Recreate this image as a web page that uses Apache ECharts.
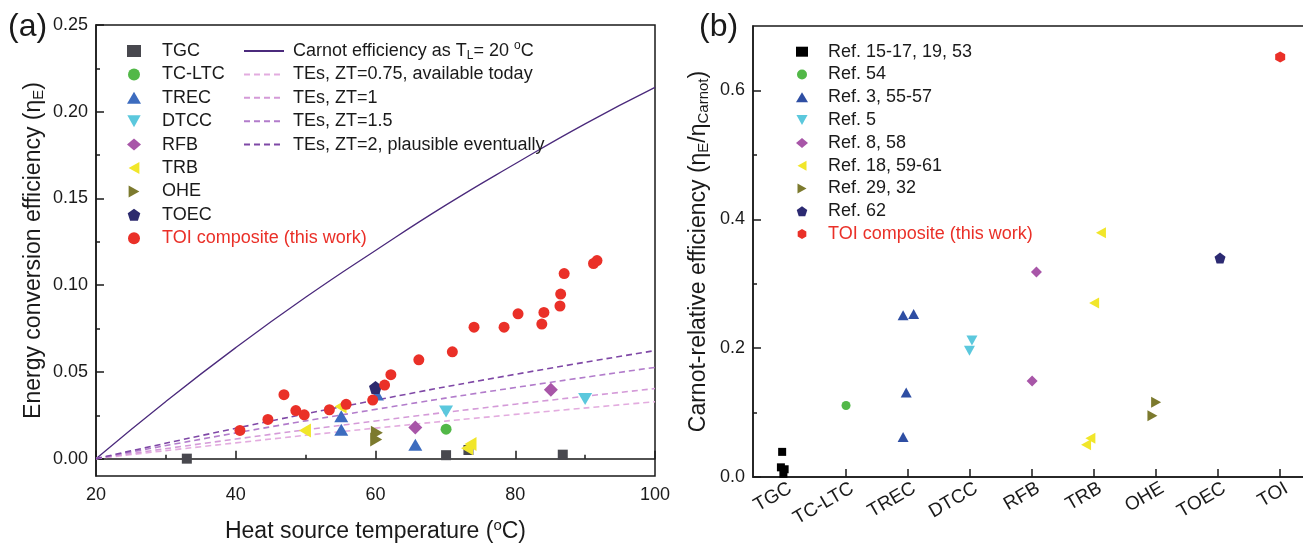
<!DOCTYPE html>
<html>
<head>
<meta charset="utf-8">
<script src="https://cdn.jsdelivr.net/npm/echarts@6/dist/echarts.min.js"></script>
<style>
html,body{margin:0;padding:0;background:#fff}
#chart{width:1303px;height:545px}
</style>
</head>
<body>
<div id="chart"></div>
<script>
// ---- panel (a): heat source temperature (oC) vs efficiency
var tgcA   = [[33.0,0.000],[70.1,0.002],[73.3,0.005],[86.8,0.0023]];
var tcltcA = [[70.1,0.017]];
var trecA  = [[55.1,0.0244],[55.1,0.0167],[65.7,0.008],[60.2,0.037]];
var dtccA  = [[70.1,0.0272],[90.0,0.0344]];
var rfbA   = [[65.7,0.018],[85.1,0.0397]];
var trbA   = [[49.9,0.0163],[55.0,0.030],[73.6,0.0085],[73.1,0.006]];
var oheA   = [[60.2,0.0150],[60.1,0.011]];
var toecA  = [[60.0,0.041]];
var toiA   = [[40.6,0.0163],[44.6,0.0226],[46.9,0.0369],[48.6,0.0277],[49.8,0.0253],[53.4,0.0282],
              [55.8,0.0313],[59.6,0.0338],[61.3,0.0424],[62.2,0.0484],[66.2,0.057],[71.0,0.0616],
              [74.1,0.0758],[78.4,0.0758],[80.4,0.0835],[83.8,0.0776],[84.1,0.0843],[86.4,0.088],
              [86.5,0.0949],[87.0,0.1067],[91.2,0.1125],[91.7,0.1142]];

var carnotT   = [20,30,40,50,60,70,80,90,100];
var carnotEta = [0,0.033,0.064,0.093,0.120,0.146,0.170,0.193,0.214];
var teT   = [20,40,60,80,100];
var zt075 = [0,0.0091,0.0176,0.0255,0.0328];
var zt1   = [0,0.0113,0.0217,0.0314,0.0404];
var zt15  = [0,0.0148,0.0284,0.0410,0.0526];
var zt2   = [0,0.0175,0.0337,0.0486,0.0623];

var yTicksA  = [0,0.05,0.10,0.15,0.20,0.25];
var yMinorA  = [0.025,0.075,0.125,0.175,0.225];

// ---- panel (b): Carnot-relative efficiency by technology
var techNames = ['TGC','TC-LTC','TREC','DTCC','RFB','TRB','OHE','TOEC','TOI'];
var techPos   = [1,2,3,4,5,6,7,8,9];
var ref15 = [[0.97,0.039],[0.95,0.015],[1.01,0.012],[0.99,0.005]];
var ref54 = [[2.0,0.111]];
var ref3  = [[2.92,0.251],[3.09,0.253],[2.97,0.131],[2.92,0.062]];
var ref5  = [[4.03,0.212],[3.99,0.196]];
var ref8  = [[5.07,0.318],[5.0,0.149]];
var ref18 = [[6.11,0.379],[6.0,0.270],[5.94,0.060],[5.87,0.050]];
var ref29 = [[7.0,0.116],[6.94,0.095]];
var ref62 = [[8.03,0.340]];
var toiB  = [[9.0,0.652]];
var yTicksB = [0,0.2,0.4,0.6];
var yMinorB = [0.1,0.3,0.5];

var FONT = 'Liberation Sans, Arial, sans-serif';
var INK = '#1a1a1a';
var RED = '#ea3028';
var TOI_NAME = 'TOI composite (this work)';
var CARNOT_NAME = 'Carnot efficiency as TL= 20 oC';

var downTri  = 'path://M0,0 L10,0 L5,9 Z';
var leftTri  = 'path://M9,0 L9,10 L0,5 Z';
var rightTri = 'path://M0,0 L0,10 L9,5 Z';
var pent     = 'path://M50,0 L97.6,34.5 L79.4,90.5 L20.6,90.5 L2.4,34.5 Z';
var hexa     = 'path://M50,0 L93.3,25 L93.3,75 L50,100 L6.7,75 L6.7,25 Z';

function sc(name, data, symbol, size, color, xi, yi){
  return {name:name, type:'scatter', xAxisIndex:xi, yAxisIndex:yi, data:data,
    symbol:symbol, symbolSize:size, itemStyle:{color:color, opacity:1}, z:5};
}
function ln(name, xs, ys, color, dashed, width){
  var pts = xs.map(function(x,i){ return [x, ys[i]]; });
  return {name:name, type:'line', xAxisIndex:0, yAxisIndex:0, data:pts, symbol:'none',
    smooth:true, lineStyle:{color:color, width:width, type: dashed ? [6,4] : 'solid'},
    itemStyle:{color:color}, z:2};
}

var axisLineStyle = {color:INK, width:1.5};
var labelStyle = {color:INK, fontSize:18, fontFamily:FONT};
var titleRich = {
  t:{fontSize:23, color:INK, fontFamily:FONT, lineHeight:26},
  sub:{fontSize:15, color:INK, fontFamily:FONT, lineHeight:26, padding:[10,0,0,0]},
  sup:{fontSize:15, color:INK, fontFamily:FONT, lineHeight:26, padding:[0,0,13,0]}
};
var lineLegendText = {fontSize:18, color:INK, fontFamily:FONT, lineHeight:18, padding:[0,0,0,4],
  rich:{
    t:{fontSize:18, color:INK, fontFamily:FONT, lineHeight:18},
    sub:{fontSize:12, color:INK, fontFamily:FONT, lineHeight:18, padding:[9,0,0,0]},
    sup:{fontSize:12, color:INK, fontFamily:FONT, lineHeight:18, padding:[0,0,10,0]}}};
// label anchors sit a little right of each tick, as in the original
var techLabelPos = techPos.map(function(p){ return p + 0.1; });

var chart = echarts.init(document.getElementById('chart'));
var option = {
  backgroundColor:'#fff',
  animation:false,
  textStyle:{fontFamily:FONT},
  graphic:[
    {type:'text', left:8, top:11, style:{text:'(a)', font:'32px Liberation Sans', fill:INK}},
    {type:'text', left:699, top:11, style:{text:'(b)', font:'32px Liberation Sans', fill:INK}}
  ],
  grid:[
    {left:96, top:25, width:559, height:451, show:true, borderColor:INK, borderWidth:1.5, outerBoundsMode:'none'},
    {left:753, top:26, width:552, height:451, show:true, borderColor:INK, borderWidth:1.5, outerBoundsMode:'none'}
  ],
  xAxis:[
    {gridIndex:0, type:'value', min:20, max:100, interval:20,
     axisLine:{lineStyle:axisLineStyle},
     axisTick:{inside:true, length:8, lineStyle:axisLineStyle},
     minorTick:{show:true, splitNumber:2, length:4, lineStyle:axisLineStyle},
     axisLabel:Object.assign({margin:10}, labelStyle),
     splitLine:{show:false}, minorSplitLine:{show:false},
     name:'{t|Heat source temperature (}{sup|o}{t|C)}', nameLocation:'middle', nameGap:43,
     nameTextStyle:{rich:titleRich}},
    {gridIndex:1, type:'value', min:0.5, max:9.4,
     axisLine:{lineStyle:axisLineStyle},
     axisTick:{inside:true, length:8, customValues:techPos, lineStyle:axisLineStyle},
     axisLabel:{margin:10, rotate:30, fontSize:19, customValues:techLabelPos, color:INK, fontFamily:FONT,
       formatter:function(v){ return techNames[Math.round(v)-1] || ''; }},
     splitLine:{show:false}}
  ],
  yAxis:[
    {gridIndex:0, type:'value', position:'left', min:-0.01, max:0.25,
     axisLine:{show:true, lineStyle:axisLineStyle},
     axisTick:{show:true, inside:true, length:8, customValues:yTicksA, lineStyle:axisLineStyle},
     axisLabel:Object.assign({margin:8, customValues:yTicksA,
       formatter:function(v){ return v.toFixed(2); }}, labelStyle),
     splitLine:{show:false},
     name:'{t|Energy conversion efficiency (\u03b7}{sub|E}{t|)}', nameLocation:'middle', nameGap:49, nameRotate:90,
     nameTextStyle:{rich:titleRich}},
    {gridIndex:0, type:'value', position:'left', min:-0.01, max:0.25,
     axisLine:{show:false},
     axisTick:{show:true, inside:true, length:4, customValues:yMinorA, lineStyle:axisLineStyle},
     axisLabel:{show:false}, splitLine:{show:false}},
    {gridIndex:1, type:'value', position:'left', min:0, max:0.7,
     axisLine:{show:true, lineStyle:axisLineStyle},
     axisTick:{show:true, inside:true, length:8, customValues:yTicksB, lineStyle:axisLineStyle},
     axisLabel:Object.assign({margin:8, customValues:yTicksB,
       formatter:function(v){ return v.toFixed(1); }}, labelStyle),
     splitLine:{show:false},
     name:'{t|Carnot-relative efficiency (\u03b7}{sub|E}{t|/\u03b7}{sub|Carnot}{t|)}',
     nameLocation:'middle', nameGap:41, nameRotate:90,
     nameTextStyle:{rich:titleRich}},
    {gridIndex:1, type:'value', position:'left', min:0, max:0.7,
     axisLine:{show:false},
     axisTick:{show:true, inside:true, length:4, customValues:yMinorB, lineStyle:axisLineStyle},
     axisLabel:{show:false}, splitLine:{show:false}}
  ],
  legend:[
    {orient:'vertical', left:122, top:37, itemWidth:14, itemHeight:12, itemGap:5.4,
     selectedMode:false,
     textStyle:{fontSize:18, color:INK, fontFamily:FONT, lineHeight:18, padding:[0,0,0,16]},
     data:['TGC','TC-LTC','TREC','DTCC','RFB','TRB','OHE','TOEC',
           {name:TOI_NAME, textStyle:{color:RED}}]},
    {orient:'vertical', left:238, top:35, itemWidth:40, itemHeight:12,
     selectedMode:false, itemStyle:{opacity:0},
     formatter:function(n){
       if(n === CARNOT_NAME) return '{t|Carnot efficiency as T}{sub|L}{t|= 20 }{sup|o}{t|C}';
       return n;
     },
     textStyle:lineLegendText,
     data:[CARNOT_NAME]},
    {orient:'vertical', left:238, top:60.4, itemWidth:40, itemHeight:12, itemGap:5.4,
     selectedMode:false, itemStyle:{opacity:0},
     textStyle:lineLegendText,
     data:['TEs, ZT=0.75, available today','TEs, ZT=1','TEs, ZT=1.5','TEs, ZT=2, plausible eventually']},
    {orient:'vertical', left:791, top:37.7, itemWidth:12, itemHeight:10, itemGap:4.8,
     selectedMode:false,
     textStyle:{fontSize:18, color:INK, fontFamily:FONT, lineHeight:18, padding:[0,0,0,15]},
     data:['Ref. 15-17, 19, 53','Ref. 54','Ref. 3, 55-57','Ref. 5','Ref. 8, 58','Ref. 18, 59-61',
           'Ref. 29, 32','Ref. 62',{name:TOI_NAME + ' ', textStyle:{color:RED}}]}
  ],
  series:[
    ln(CARNOT_NAME, carnotT, carnotEta, '#4b2a7c', false, 1.3),
    ln('TEs, ZT=0.75, available today', teT, zt075, '#e3acdf', true, 1.6),
    ln('TEs, ZT=1', teT, zt1, '#d49ad8', true, 1.6),
    ln('TEs, ZT=1.5', teT, zt15, '#b27ccb', true, 1.6),
    ln('TEs, ZT=2, plausible eventually', teT, zt2, '#7f48a6', true, 1.6),
    sc('TGC', tgcA, 'rect', 10, '#48484e', 0, 0),
    sc('TC-LTC', tcltcA, 'circle', 11, '#52b848', 0, 0),
    sc('TREC', trecA, 'triangle', [14,12], '#3d6cbf', 0, 0),
    sc('DTCC', dtccA, downTri, [14,12], '#5bc8dd', 0, 0),
    sc('RFB', rfbA, 'diamond', 14, '#a856a8', 0, 0),
    sc('TRB', trbA, leftTri, [12,14], '#f1e62a', 0, 0),
    sc('OHE', oheA, rightTri, [12,14], '#7c7a2e', 0, 0),
    sc('TOEC', toecA, pent, 13, '#2c2a6e', 0, 0),
    sc(TOI_NAME, toiA, 'circle', 11, RED, 0, 0),
    sc('Ref. 15-17, 19, 53', ref15, 'rect', 8, '#000000', 1, 2),
    sc('Ref. 54', ref54, 'circle', 9, '#52b848', 1, 2),
    sc('Ref. 3, 55-57', ref3, 'triangle', [11,10], '#2e4ea3', 1, 2),
    sc('Ref. 5', ref5, downTri, [11,10], '#5bc8dd', 1, 2),
    sc('Ref. 8, 58', ref8, 'diamond', 11, '#a856a8', 1, 2),
    sc('Ref. 18, 59-61', ref18, leftTri, [10,11], '#f1e62a', 1, 2),
    sc('Ref. 29, 32', ref29, rightTri, [10,11], '#7c7a2e', 1, 2),
    sc('Ref. 62', ref62, pent, 11, '#2c2a72', 1, 2),
    sc(TOI_NAME + ' ', toiB, hexa, [10,11], RED, 1, 2)
  ]
};
chart.setOption(option);
</script>
</body>
</html>
